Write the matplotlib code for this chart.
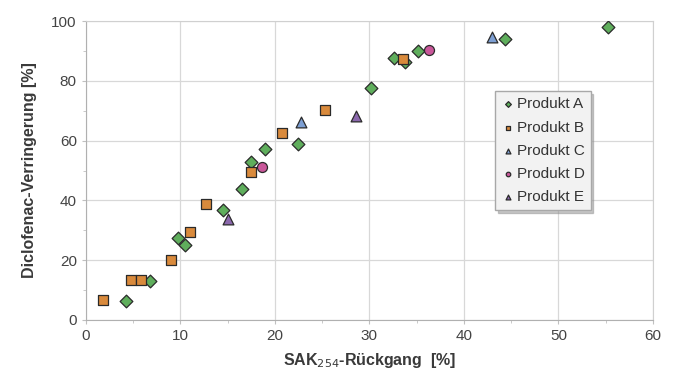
import matplotlib
matplotlib.use("Agg")
import matplotlib.pyplot as plt
from matplotlib.ticker import MultipleLocator

plt.rcParams["font.family"] = ["Liberation Sans", "DejaVu Sans"]

# values
a_x = [4.3, 6.8, 9.8, 10.5, 14.5, 16.5, 17.5, 18.9, 22.4, 30.2, 32.6, 33.8, 35.1, 44.3, 55.2]
a_y = [6.4, 13.0, 27.4, 25.2, 36.7, 43.8, 53.0, 57.1, 58.9, 77.6, 87.8, 86.5, 90.0, 94.2, 98.0]
b_x = [1.8, 4.8, 5.8, 9.0, 11.0, 12.7, 17.5, 20.8, 25.3, 33.6]
b_y = [6.7, 13.3, 13.3, 20.0, 29.4, 38.7, 49.4, 62.6, 70.2, 87.5]
c_x = [22.8, 43.0]
c_y = [66.4, 94.7]
d_x = [18.6, 36.3]
d_y = [51.3, 90.2]
e_x = [15.0, 28.6]
e_y = [33.7, 68.3]

series = [
    ("Produkt A", a_x, a_y, "D", "#5fae5c", 42),
    ("Produkt B", b_x, b_y, "s", "#d98a3c", 52),
    ("Produkt C", c_x, c_y, "^", "#7d9fd3", 60),
    ("Produkt D", d_x, d_y, "o", "#c9579a", 52),
    ("Produkt E", e_x, e_y, "^", "#8b68ad", 60),
]

fig = plt.figure(figsize=(6.76, 3.85), dpi=100)
ax = fig.add_axes([0.127, 0.169, 0.839, 0.776])

for name, xs, ys, m, col, s in series:
    ax.scatter(xs, ys, marker=m, s=s, color=col, edgecolors="#2a2a2a",
               linewidths=0.9, label=name, zorder=3)

ax.set_xlim(0, 60)
ax.set_ylim(0, 100)
ax.xaxis.set_major_locator(MultipleLocator(10))
ax.xaxis.set_minor_locator(MultipleLocator(5))
ax.yaxis.set_major_locator(MultipleLocator(20))
ax.yaxis.set_minor_locator(MultipleLocator(10))
ax.grid(True, which="major", color="#d8d8d8", lw=0.9)
ax.set_axisbelow(True)
for sp in ax.spines.values():
    sp.set_color("#d0d0d0")
ax.spines["left"].set_color("#b0b0b0")
ax.spines["bottom"].set_color("#b0b0b0")
ax.tick_params(which="both", colors="#c0c0c0", labelcolor="#444444",
               labelsize=11, length=3)
ax.tick_params(which="minor", length=2)

ax.set_xlabel("SAK$_{254}$-Rückgang  [%]", fontsize=11.5, fontweight="bold",
              color="#3a3a3a", labelpad=6)
ax.set_ylabel("Diclofenac-Verringerung [%]", fontsize=11.5, fontweight="bold",
              color="#3a3a3a", labelpad=10)

leg = ax.legend(loc="upper left", bbox_to_anchor=(0.722, 0.765), fontsize=11,
                frameon=True, fancybox=False, shadow={"ox": 2, "oy": -2, "color": "#909090"},
                markerscale=0.45, handletextpad=0.1, handlelength=0.9,
                borderpad=0.4, labelspacing=0.6, edgecolor="#a8a8a8",
                borderaxespad=0)
leg.get_frame().set_facecolor("#f2f2f2")
for t in leg.get_texts():
    t.set_color("#333333")

fig.savefig("out.png", dpi=100)
